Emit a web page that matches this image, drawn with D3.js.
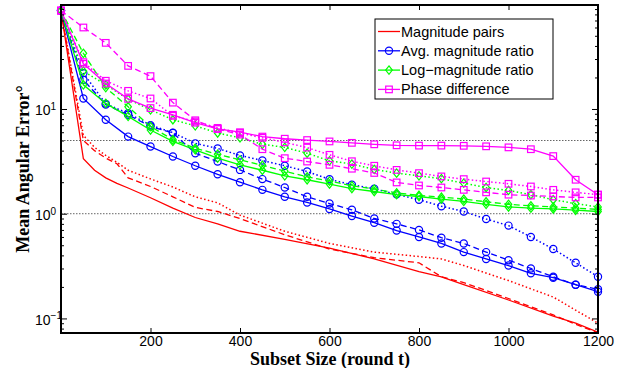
<!DOCTYPE html>
<html>
<head>
<meta charset="utf-8">
<script src="https://cdn.jsdelivr.net/npm/d3@7"></script>
<style>
  body { margin: 0; background: #fff; }
  svg text { font-family: "Liberation Sans", Arial, sans-serif; }
</style>
</head>
<body>
<svg id="chart" width="636" height="368"></svg>
<script>
// subset sizes where markers are drawn
const subsetSizes = [0, 50, 100, 150, 200, 250, 300, 350, 400, 450, 500, 550, 600,
  650, 700, 750, 800, 850, 900, 950, 1000, 1050, 1100, 1150, 1200];
// magnitude pairs curves are sampled more finely
const redSizes = [0, 50, 75, 100, 125, 150, 200, 250, 300, 350, 400, 500, 600, 700,
  800, 850, 900, 1000, 1100, 1150, 1200];

const magPairsSolid  = [87, 3.35, 2.6, 2.2, 1.95, 1.76, 1.42, 1.13, 0.92, 0.8, 0.68, 0.57, 0.47, 0.37, 0.28, 0.25, 0.21, 0.15, 0.105, 0.09, 0.074];
const magPairsDashed = [87, 5.0, 4.0, 3.4, 3.0, 2.2, 1.82, 1.45, 1.15, 1.05, 0.9, 0.63, 0.46, 0.38, 0.34, 0.25, 0.22, 0.155, 0.108, 0.088, 0.073];
const magPairsDotted = [87, 5.6, 4.3, 3.6, 3.1, 2.6, 2.15, 1.8, 1.45, 1.27, 0.97, 0.68, 0.52, 0.43, 0.39, 0.37, 0.32, 0.23, 0.16, 0.12, 0.09];

const avgRatioSolid  = [87, 12.6, 7.9, 5.45, 4.38, 3.52, 2.87, 2.38, 2.0, 1.69, 1.45, 1.28, 1.11, 0.95, 0.82, 0.69, 0.6, 0.52, 0.43, 0.37, 0.32, 0.27, 0.245, 0.21, 0.18];
const avgRatioDashed = [87, 19, 11.0, 8.8, 6.8, 5.9, 3.78, 3.15, 2.62, 2.14, 1.78, 1.45, 1.25, 1.09, 0.9, 0.8, 0.7, 0.59, 0.52, 0.43, 0.36, 0.30, 0.25, 0.21, 0.19];
const avgRatioDotted = [87, 22, 11.2, 9.1, 7.0, 5.95, 4.7, 4.2, 3.6, 3.22, 2.87, 2.53, 2.13, 1.89, 1.73, 1.53, 1.36, 1.18, 1.05, 0.89, 0.77, 0.6, 0.46, 0.34, 0.25];

const logRatioSolid  = [87, 17, 11.3, 8.5, 6.3, 4.9, 4.07, 3.39, 2.93, 2.6, 2.3, 2.11, 1.92, 1.74, 1.63, 1.52, 1.46, 1.38, 1.31, 1.23, 1.16, 1.13, 1.11, 1.08, 1.05];
const logRatioDashed = [87, 34, 16, 10.5, 6.8, 5.1, 4.22, 3.7, 3.27, 2.9, 2.55, 2.25, 2.05, 1.85, 1.72, 1.58, 1.5, 1.44, 1.38, 1.3, 1.23, 1.19, 1.16, 1.13, 1.1];
const logRatioDotted = [87, 23, 17, 12.4, 9.8, 7.9, 6.9, 5.9, 5.3, 4.6, 4.3, 3.78, 3.2, 2.98, 2.65, 2.44, 2.3, 2.16, 1.96, 1.78, 1.67, 1.52, 1.36, 1.25, 1.16];

const phaseDiffSolid  = [87, 27, 17.5, 12.5, 10.2, 8.8, 7.4, 6.45, 6.0, 5.45, 5.2, 5.05, 4.9, 4.75, 4.6, 4.5, 4.47, 4.47, 4.45, 4.4, 4.3, 4.13, 3.55, 2.11, 1.52];
const phaseDiffDashed = [87, 60, 42.8, 25.8, 20.6, 11.5, 7.8, 6.45, 5.7, 4.13, 3.39, 3.15, 2.93, 2.69, 2.45, 1.99, 1.86, 1.78, 1.69, 1.6, 1.52, 1.49, 1.46, 1.43, 1.43];
const phaseDiffDotted = [87, 28, 18.6, 14.9, 12.6, 8.6, 7.6, 6.6, 5.9, 5.3, 4.8, 4.28, 3.65, 3.17, 2.87, 2.62, 2.44, 2.27, 2.14, 2.03, 1.93, 1.82, 1.69, 1.6, 1.52];

const legendLabels = ['Magnitude pairs', 'Avg. magnitude ratio', 'Log\u2212magnitude ratio', 'Phase difference'];
const xTicks = [200, 400, 600, 800, 1000, 1200];
const yMajor = [0.1, 1, 10];
const refLevels = [1, 5];

const dashes = { solid: null, dashed: '6,3.5', dotted: '1.5,2.4' };

const series = [
  { xs: redSizes, v: magPairsDashed, color: '#ff0000', style: 'dashed', marker: null },
  { xs: redSizes, v: magPairsDotted, color: '#ff0000', style: 'dotted', marker: null },
  { xs: redSizes, v: magPairsSolid,  color: '#ff0000', style: 'solid',  marker: null },
  { xs: subsetSizes, v: avgRatioDashed, color: '#0000ff', style: 'dashed', marker: 'circle' },
  { xs: subsetSizes, v: avgRatioDotted, color: '#0000ff', style: 'dotted', marker: 'circle' },
  { xs: subsetSizes, v: avgRatioSolid,  color: '#0000ff', style: 'solid',  marker: 'circle' },
  { xs: subsetSizes, v: logRatioDashed, color: '#00ff00', style: 'dashed', marker: 'diamond' },
  { xs: subsetSizes, v: logRatioDotted, color: '#00ff00', style: 'dotted', marker: 'diamond' },
  { xs: subsetSizes, v: logRatioSolid,  color: '#00ff00', style: 'solid',  marker: 'diamond' },
  { xs: subsetSizes, v: phaseDiffDashed, color: '#ff00ff', style: 'dashed', marker: 'square' },
  { xs: subsetSizes, v: phaseDiffDotted, color: '#ff00ff', style: 'dotted', marker: 'square' },
  { xs: subsetSizes, v: phaseDiffSolid,  color: '#ff00ff', style: 'solid',  marker: 'square' }
];

const plotLeft = 61, plotRight = 598, plotTop = 5, plotBottom = 333;
const x = d3.scaleLinear().domain([0, 1200]).range([plotLeft, plotRight]);
const y = d3.scaleLog().domain([0.0726, 98.4]).range([plotBottom, plotTop]);

const svg = d3.select('#chart');

svg.append('defs').append('clipPath').attr('id', 'plotClip')
  .append('rect').attr('x', plotLeft).attr('y', plotTop)
  .attr('width', plotRight - plotLeft).attr('height', plotBottom - plotTop);

// reference levels
svg.append('g').selectAll('line').data(refLevels).enter().append('line')
  .attr('x1', plotLeft).attr('x2', plotRight)
  .attr('y1', d => y(d)).attr('y2', d => y(d))
  .attr('stroke', '#666').attr('stroke-width', 1)
  .attr('stroke-dasharray', '1.5,1.5');

const line = d3.line().x(d => x(d[0])).y(d => y(d[1]));

function drawMarker(sel, type, color) {
  if (type === 'circle') {
    sel.append('circle').attr('r', 3.6);
  } else if (type === 'square') {
    sel.append('rect').attr('x', -3.3).attr('y', -3.3).attr('width', 6.6).attr('height', 6.6);
  } else if (type === 'diamond') {
    sel.append('path').attr('d', 'M0,-4.2L3.3,0L0,4.2L-3.3,0Z');
  }
  sel.selectAll('*').attr('fill', 'none').attr('stroke', color).attr('stroke-width', 1.2);
}

const plot = svg.append('g');
series.forEach(s => {
  const pts = s.xs.map((xv, i) => [xv, s.v[i]]);
  plot.append('path').datum(pts)
    .attr('d', line)
    .attr('clip-path', 'url(#plotClip)')
    .attr('fill', 'none')
    .attr('stroke', s.color)
    .attr('stroke-width', s.style === 'dotted' ? 1.5 : 1.3)
    .attr('stroke-dasharray', dashes[s.style]);
  if (s.marker) {
    const m = plot.append('g').selectAll('g').data(pts).enter().append('g')
      .attr('transform', d => `translate(${x(d[0])},${y(d[1])})`);
    drawMarker(m, s.marker, s.color);
  }
});

// axes
const minor = [];
for (let e = -2; e <= 1; e++) {
  for (let k = 2; k <= 9; k++) {
    const v = k * Math.pow(10, e);
    if (v > 0.0726 && v < 98.4) minor.push(v);
  }
}

svg.append('g').attr('transform', `translate(0,${plotBottom})`)
  .call(d3.axisBottom(x).tickValues(xTicks).tickFormat(d3.format('d'))
    .tickSizeInner(-5).tickSizeOuter(0).tickPadding(3))
  .call(g => g.select('.domain').remove())
  .call(g => g.selectAll('text').style('font-size', '14px').attr('fill', '#000'));
svg.append('g').attr('transform', `translate(0,${plotTop})`)
  .call(d3.axisTop(x).tickValues(xTicks).tickSizeInner(-5).tickSizeOuter(0).tickFormat(''))
  .call(g => g.select('.domain').remove());

[[plotLeft, d3.axisLeft], [plotRight, d3.axisRight]].forEach(([pos, ax]) => {
  svg.append('g').attr('transform', `translate(${pos},0)`)
    .call(ax(y).tickValues(yMajor).tickSizeInner(-6).tickSizeOuter(0).tickFormat(''))
    .call(g => g.select('.domain').remove());
  svg.append('g').attr('transform', `translate(${pos},0)`)
    .call(ax(y).tickValues(minor).tickSizeInner(-3).tickSizeOuter(0).tickFormat(''))
    .call(g => g.select('.domain').remove());
});
svg.selectAll('.tick line').attr('stroke', '#000');

// y tick labels as 10^n
yMajor.forEach(v => {
  const t = svg.append('text').attr('x', 35).attr('y', y(v) + 6.3)
    .style('font-size', '14px');
  t.append('tspan').text('10');
  t.append('tspan').attr('dy', -5.5).style('font-size', '10px')
    .text(String(Math.round(Math.log10(v))).replace('-', '\u2212'));
});

// frame
svg.append('rect').attr('x', plotLeft).attr('y', plotTop)
  .attr('width', plotRight - plotLeft).attr('height', plotBottom - plotTop)
  .attr('fill', 'none').attr('stroke', '#000').attr('stroke-width', 2);

// axis titles
svg.append('text').attr('x', 330).attr('y', 364.5)
  .attr('text-anchor', 'middle')
  .style('font-family', '"Liberation Serif", "Times New Roman", serif')
  .style('font-weight', 'bold').style('font-size', '18px')
  .text('Subset Size (round t)');
svg.append('text')
  .attr('transform', `translate(29,${(plotTop + plotBottom) / 2}) rotate(-90)`)
  .attr('text-anchor', 'middle')
  .style('font-family', '"Liberation Serif", "Times New Roman", serif')
  .style('font-weight', 'bold').style('font-size', '18px')
  .text('Mean Angular Error\u00b0');

// legend
const legendMarkers = [null, 'circle', 'diamond', 'square'];
const legendColors = ['#ff0000', '#0000ff', '#00ff00', '#ff00ff'];
const lg = svg.append('g');
lg.append('rect').attr('x', 375).attr('y', 19).attr('width', 178).attr('height', 80)
  .attr('fill', '#fff').attr('stroke', '#000').attr('stroke-width', 1);
legendLabels.forEach((lab, i) => {
  const ly = 31.5 + i * 19.3;
  lg.append('line').attr('x1', 378).attr('x2', 400).attr('y1', ly).attr('y2', ly)
    .attr('stroke', legendColors[i]).attr('stroke-width', 1.3);
  if (legendMarkers[i]) {
    const m = lg.append('g').attr('transform', `translate(389,${ly})`);
    drawMarker(m, legendMarkers[i], legendColors[i]);
  }
  lg.append('text').attr('x', 401).attr('y', ly + 5).style('font-size', '14.5px').text(lab);
});
</script>
</body>
</html>
